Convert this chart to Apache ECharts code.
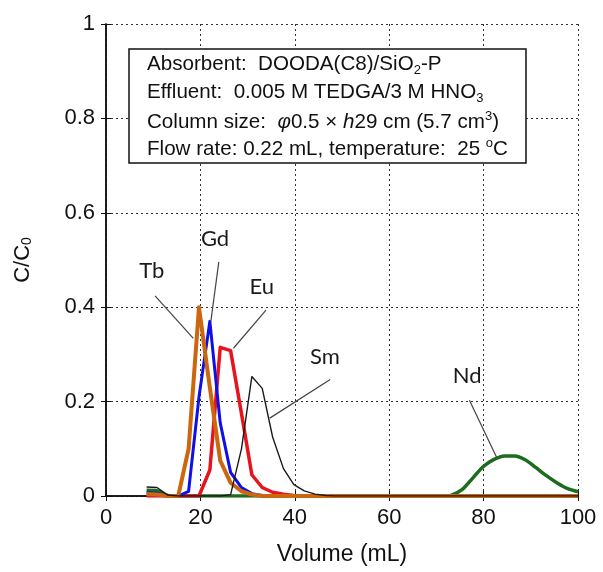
<!DOCTYPE html>
<html><head><meta charset="utf-8">
<script src="https://cdn.jsdelivr.net/npm/echarts/dist/echarts.min.js"></script>
<style>html,body{margin:0;padding:0;background:#fff;}#c{width:603px;height:572px;}</style>
</head><body><div id="c"></div>
<script>
// Elution volume (mL) of each collected fraction
const volume = [8.6, 10.8, 13.1, 15.3, 17.5, 19.7, 22.0, 24.2, 26.4, 28.7,
  30.9, 33.1, 35.3, 37.6, 39.8, 42.0, 44.3, 46.5, 48.7, 50.9,
  53.2, 55.4, 57.6, 59.9, 62.1, 64.3, 66.5, 68.8, 71.0, 73.2,
  75.5, 77.7, 79.9, 82.1, 84.4, 86.6, 88.8, 91.1, 93.3, 95.5,
  97.7, 100.0];
// C/C0 for each element
const tb = [0.004, 0.003, 0, 0, 0.10, 0.40, 0.23, 0.075, 0.028, 0.010,
  0.003, 0, 0, 0, 0, 0, 0, 0, 0, 0,
  0, 0, 0, 0, 0, 0, 0, 0, 0, 0,
  0, 0, 0, 0, 0, 0, 0, 0, 0, 0,
  0, 0];
const gd = [0.007, 0.006, 0, 0, 0.010, 0.21, 0.37, 0.155, 0.050, 0.018,
  0.005, 0.001, 0, 0, 0, 0, 0, 0, 0, 0,
  0, 0, 0, 0, 0, 0, 0, 0, 0, 0,
  0, 0, 0, 0, 0, 0, 0, 0, 0, 0,
  0, 0];
const eu = [0, 0, 0, 0, 0, 0, 0.055, 0.315, 0.308, 0.175,
  0.045, 0.018, 0.008, 0.004, 0.001, 0, 0, 0, 0, 0,
  0, 0, 0, 0, 0, 0, 0, 0, 0, 0,
  0, 0, 0, 0, 0, 0, 0, 0, 0, 0,
  0, 0];
const sm = [0.019, 0.018, 0.002, 0, 0, 0, 0, 0, 0.003, 0.10,
  0.253, 0.228, 0.125, 0.058, 0.024, 0.011, 0.004, 0.001, 0, 0,
  0, 0, 0, 0, 0, 0, 0, 0, 0, 0,
  0, 0, 0, 0, 0, 0, 0, 0, 0, 0,
  0, 0];
const nd = [0.012, 0.011, 0.001, 0, 0, 0, 0, 0, 0, 0,
  0, 0, 0, 0, 0, 0, 0, 0, 0, 0,
  0, 0, 0, 0, 0, 0, 0, 0, 0, 0.002,
  0.014, 0.038, 0.062, 0.077, 0.085, 0.085, 0.077, 0.060, 0.043, 0.028,
  0.016, 0.009];
const xTicks = [0, 20, 40, 60, 80, 100];
const yTicks = [0, 0.2, 0.4, 0.6, 0.8, 1];

// Annotation label / leader-line anchors (data coordinates)
const notes = {
  Tb: {label: [9.7, 0.477], from: [10.4, 0.424], to: [18.5, 0.334]},
  Gd: {label: [23.1, 0.544], from: [23.9, 0.496], to: [22.2, 0.369]},
  Eu: {label: [33.0, 0.443], from: [33.9, 0.394], to: [27.0, 0.313]},
  Sm: {label: [46.4, 0.295], from: [47.5, 0.247], to: [34.7, 0.165]},
  Nd: {label: [76.5, 0.254], from: [77.0, 0.203], to: [82.8, 0.081]}
};

const AX = '#111';
const FONT = '"Liberation Sans", Arial, sans-serif';

function pairs(ys) { return volume.map((v, i) => [v, ys[i]]); }
function mk(name, ys, color, width, z) {
  const n = notes[name];
  return {
    name, type: 'line', data: pairs(ys), symbol: 'none', z,
    lineStyle: {color, width, join: 'round'}, itemStyle: {color},
    smooth: name === 'Nd' ? 0.3 : false,
    animation: false,
    markLine: {
      silent: true, symbol: 'none', animation: false,
      lineStyle: {color: '#444', width: 1.2, type: 'solid'},
      label: {show: false},
      data: [[{coord: n.from}, {coord: n.to}]]
    },
    markPoint: {
      silent: true, symbol: 'circle', symbolSize: 1, animation: false,
      itemStyle: {color: 'rgba(0,0,0,0)'},
      label: {show: true, position: 'inside', formatter: name, fontSize: 22,
        fontFamily: 'Lato, "Open Sans", sans-serif', color: '#1a1a1a'},
      data: [{coord: n.label}]
    }
  };
}

const chart = echarts.init(document.getElementById('c'), null, {renderer: 'canvas'});
const sub = {fontSize: 13, verticalAlign: 'bottom', lineHeight: 13, fontFamily: FONT, color: AX};
const sup = {fontSize: 13, verticalAlign: 'top', lineHeight: 13, fontFamily: FONT, color: AX};
const t = {fontSize: 20.6, lineHeight: 24, fontFamily: FONT, color: AX};
const it = {fontSize: 20.6, lineHeight: 24, fontFamily: FONT, color: AX, fontStyle: 'italic'};
const rich = {t, sub, sup, it};
const boxLines = [
  '{t|Absorbent:  DOODA(C8)/SiO}{sub|2}{t|-P}',
  '{t|Effluent:  0.005 M TEDGA/3 M HNO}{sub|3}',
  '{t|Column size:  }{it|\u03c6}{t|0.5 \u00d7 }{it|h}{t|29 cm (5.7 cm}{sup|3}{t|)}',
  '{t|Flow rate: 0.22 mL, temperature:  25 }{sup|o}{t|C}'
];
const boxY = [66, 94, 122, 149];

chart.setOption({
  backgroundColor: '#fff',
  animation: false,
  grid: {left: 106, right: 25, top: 24, bottom: 76, containLabel: false},
  xAxis: [{
    type: 'value', min: 0, max: 100, interval: 20,
    name: 'Volume (mL)', nameLocation: 'middle', nameGap: 47,
    nameTextStyle: {fontSize: 23, color: AX, fontFamily: FONT},
    axisLine: {lineStyle: {color: AX, width: 1.5}},
    axisTick: {inside: true, length: 5, lineStyle: {color: AX}},
    axisLabel: {fontSize: 22, color: AX, fontFamily: FONT, margin: 11,
      formatter: v => xTicks.includes(v) ? String(v) : ''},
    splitLine: {show: true, lineStyle: {color: '#333', type: [2, 3], width: 1}}
  }, {
    type: 'value', min: 0, max: 100, interval: 20, position: 'top',
    axisLine: {show: true, lineStyle: {color: AX, width: 1.5}},
    axisTick: {show: true, inside: true, length: 5, lineStyle: {color: AX}},
    axisLabel: {show: false}, splitLine: {show: false}
  }],
  yAxis: [{
    type: 'value', min: 0, max: 1, interval: 0.2,
    name: 'C/C{s|0}', nameLocation: 'middle', nameGap: 72, nameRotate: 90,
    nameTextStyle: {fontSize: 22, color: AX, fontFamily: FONT,
      rich: {s: {fontSize: 14, verticalAlign: 'bottom', lineHeight: 14, color: AX, fontFamily: FONT}}},
    axisLine: {show: true, lineStyle: {color: AX, width: 1.5}},
    axisTick: {show: true, inside: true, length: 5, lineStyle: {color: AX}},
    axisLabel: {fontSize: 22, color: AX, fontFamily: FONT, margin: 11,
      formatter: v => yTicks.some(y => Math.abs(y - v) < 1e-9) ? String(+v.toFixed(1)) : ''},
    splitLine: {show: true, lineStyle: {color: '#333', type: [2, 3], width: 1}}
  }, {
    type: 'value', min: 0, max: 1, interval: 0.2, position: 'right',
    axisLine: {show: true, lineStyle: {color: AX, width: 1.5}},
    axisTick: {show: true, inside: true, length: 5, lineStyle: {color: AX}},
    axisLabel: {show: false}, splitLine: {show: false}
  }],
  series: [
    mk('Nd', nd, '#1d6b1d', 3.5, 2),
    mk('Eu', eu, '#e8141c', 3.5, 3),
    mk('Gd', gd, '#1010e6', 3, 4),
    mk('Tb', tb, '#cc660f', 4, 5),
    mk('Sm', sm, '#1a1a1a', 1.4, 6)
  ],
  graphic: [{
    type: 'rect', z: 100, silent: true,
    shape: {x: 129, y: 49, width: 397, height: 114},
    style: {fill: '#fff', stroke: '#111', lineWidth: 1.5}
  }].concat(boxLines.map((s, i) => ({
    type: 'text', z: 101, silent: true, left: 147, top: boxY[i] - 12,
    style: {text: s, rich, fill: AX, verticalAlign: 'top'}
  })))
});
</script></body></html>
